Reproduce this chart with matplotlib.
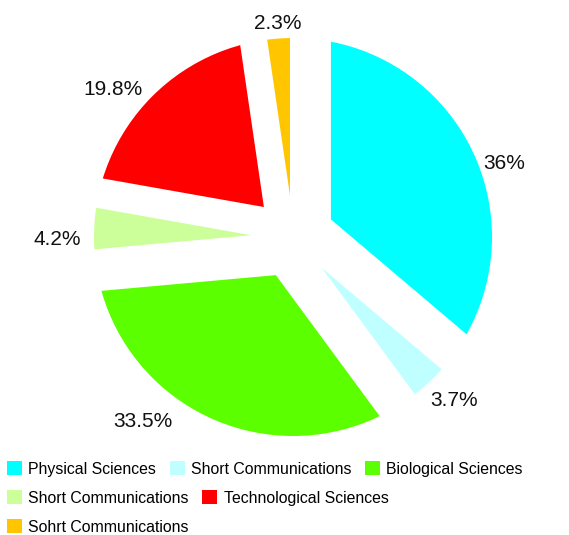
import matplotlib
matplotlib.use('Agg')
import matplotlib.pyplot as plt
from matplotlib.patches import Patch
from matplotlib.path import Path

plt.rcParams['font.family'] = ['Liberation Sans', 'DejaVu Sans']

categories = ['Physical Sciences', 'Short Communications', 'Biological Sciences',
              'Short Communications', 'Technological Sciences', 'Sohrt Communications']
values = [36, 3.7, 33.5, 4.2, 19.8, 2.3]
pct_labels = ['36%', '3.7%', '33.5%', '4.2%', '19.8%', '2.3%']
colors = ['#00FFFF', '#C0FFFF', '#5CFF00', '#CCFF99', '#FF0000', '#FFC600']
legend_rows = [[0, 1, 2], [3, 4], [5]]

# small nudges of the percentage labels (axes data units)
label_nudge = [(0, -0.075), (-0.03, -0.05), (-0.17, 0.035),
               (-0.01, -0.06), (-0.02, -0.015), (0.12, 0.02)]

fig = plt.figure(figsize=(5.69, 5.35), dpi=100)
ax = fig.add_axes([0, 0, 1, 1])

r_px = 199.0
cx, cy = 293.0, 237.0
explode = [0.21] * len(values)
wedges, texts = ax.pie(values, labels=pct_labels, colors=colors, explode=explode,
                       startangle=90, counterclock=False, labeldistance=0.845,
                       wedgeprops=dict(linewidth=0),
                       textprops=dict(fontsize=15, color='#111111'))
for t, (dx, dy) in zip(texts, label_nudge):
    x, y = t.get_position()
    t.set_position((x + dx, y + dy))

ax.set_xlim(-cx / r_px, (569 - cx) / r_px)
ax.set_ylim(-(535 - cy) / r_px, cy / r_px)
ax.set_aspect('auto')
ax.axis('off')

# exploded slices stay inside the original circle
unit_circle = Path.circle((0, 0), 1.0)
for w in wedges:
    w.set_clip_on(True)
    w.set_clip_path(unit_circle, ax.transData)

row_y = [469, 498, 527]
for row, y in zip(legend_rows, row_y):
    handles = [Patch(facecolor=colors[i], edgecolor='none') for i in row]
    labels = [categories[i] for i in row]
    fig.legend(handles, labels, loc='center left', bbox_to_anchor=(7 / 569, 1 - y / 535),
               ncol=len(row), frameon=False, fontsize=11.4, borderpad=0, borderaxespad=0,
               handlelength=0.95, handleheight=0.95, handletextpad=0.4, columnspacing=0.85)

fig.savefig('out.png', dpi=100)
